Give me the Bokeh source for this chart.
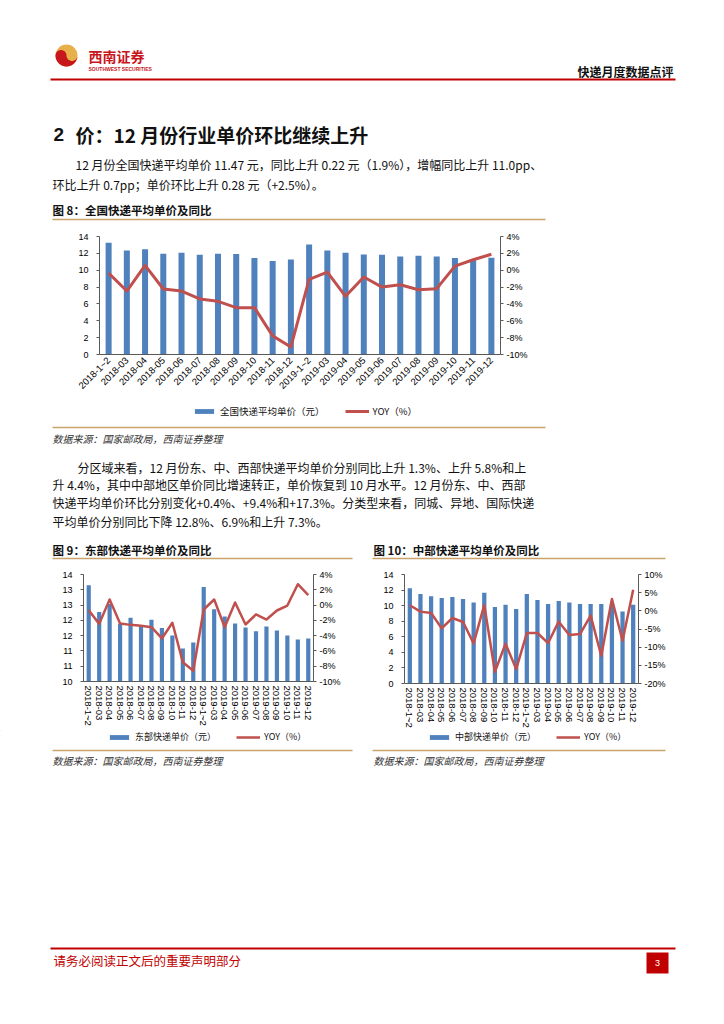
import math
import numpy as np
from bokeh.plotting import figure
from bokeh.layouts import column, row
from bokeh.models import (Range1d, FactorRange, LinearAxis, FixedTicker, PrintfTickFormatter,
                          NumeralTickFormatter, Legend, LegendItem, ColumnDataSource)
from bokeh.core.properties import value
from bokeh.embed import file_html
from bokeh.resources import INLINE

CJK = "Noto Sans CJK SC"
LAT = "Liberation Sans"
BLUE = "#4F81BD"
RED = "#C0504D"
GOLD = "#C9A36B"
DARKRED = "#C00000"
AXIS = "#595959"
PAGE_W = 724

# ---------------- data ----------------
months = ["2018-1~2", "2018-03", "2018-04", "2018-05", "2018-06", "2018-07", "2018-08",
          "2018-09", "2018-10", "2018-11", "2018-12",
          "2019-1~2", "2019-03", "2019-04", "2019-05", "2019-06", "2019-07", "2019-08",
          "2019-09", "2019-10", "2019-11", "2019-12"]

national_price = [13.25, 12.34, 12.50, 11.95, 12.07, 11.83, 11.95, 11.91, 11.44, 11.08, 11.26,
                  13.05, 12.34, 12.07, 11.87, 11.83, 11.63, 11.71, 11.63, 11.46, 11.19, 11.47]
national_yoy = [-0.34, -2.47, 0.57, -2.23, -2.47, -3.41, -3.69, -4.44, -4.44, -7.79, -9.10,
                -1.09, -0.22, -3.10, -0.81, -2.00, -1.72, -2.31, -2.19, 0.49, 1.24, 1.90]

east_price = [13.60, 12.60, 12.90, 12.16, 12.38, 12.06, 12.31, 12.00, 11.72, 11.23, 11.46,
              13.53, 12.70, 12.43, 12.17, 12.02, 11.88, 12.06, 11.91, 11.72, 11.57, 11.61]
east_yoy = [-0.67, -2.46, 0.73, -2.41, -2.59, -2.72, -2.89, -4.37, -2.32, -7.47, -8.60,
            -0.58, 0.73, -2.89, 0.34, -2.54, -1.23, -1.89, -0.71, -0.06, 2.73, 1.30]

central_price = [12.24, 11.51, 11.21, 10.99, 11.12, 10.86, 10.39, 11.64, 9.83, 10.13, 9.57,
                 11.51, 10.73, 10.22, 10.61, 10.39, 10.22, 10.22, 10.22, 10.15, 9.26, 10.13]
central_yoy = [1.53, -0.22, -0.59, -4.82, -1.97, -3.07, -8.96, 1.62, -16.78, -9.05, -16.04,
               -6.11, -6.11, -8.87, -2.98, -6.66, -6.38, -1.32, -12.36, 3.28, -8.22, 5.80]

# ---------------- texts ----------------
header_right = "快递月度数据点评"
logo_cn = "西南证券"
logo_en = "SOUTHWEST SECURITIES"
title_num = "2"
title_text = "价：12 月份行业单价环比继续上升"
para1 = ["12 月份全国快递平均单价 11.47 元，同比上升 0.22 元（1.9%），增幅同比上升 11.0pp、",
         "环比上升 0.7pp；单价环比上升 0.28 元（+2.5%）。"]
para2 = ["分区域来看，12 月份东、中、西部快递平均单价分别同比上升 1.3%、上升 5.8%和上",
         "升 4.4%，其中中部地区单价同比增速转正，单价恢复到 10 月水平。12 月份东、中、西部",
         "快递平均单价环比分别变化+0.4%、+9.4%和+17.3%。分类型来看，同城、异地、国际快递",
         "平均单价分别同比下降 12.8%、6.9%和上升 7.3%。"]
cap8 = "图 8：全国快递平均单价及同比"
cap9 = "图 9：东部快递平均单价及同比"
cap10 = "图 10：中部快递平均单价及同比"
source = "数据来源：国家邮政局，西南证券整理"
footer = "请务必阅读正文后的重要声明部分"
page_no = "3"
leg8 = "全国快递平均单价（元）"
leg9 = "东部快递单价（元）"
leg10 = "中部快递单价（元）"
leg_yoy = "YOY（%）"


def strip(y0, y1, x0=0, x1=PAGE_W):
    p = figure(width=x1 - x0, height=y1 - y0, x_range=Range1d(x0, x1), y_range=Range1d(y1, y0),
               x_axis_type=None, y_axis_type=None, toolbar_location=None, output_backend="svg",
               min_border=0, outline_line_color=None, frame_align=False)
    return p


def txt(p, x, y, s, size, color="#111111", font=CJK, style="normal", align="left"):
    p.text(x=[x], y=[y], text=[s], text_font=value(font), text_font_size=value(f"{size}px"),
           text_color=color, text_font_style=style, text_align=align, text_baseline="middle")


def hline(p, x0, x1, y, color, w):
    p.line(x=[x0, x1], y=[y, y], line_color=color, line_width=w)


def strip_legend(p, bar_label, loc, lsize, line_w):
    # legend swatches only: placeholder glyphs kept outside the visible range
    rb = p.vbar(x=[-100], top=[-100], bottom=[-110], width=1, fill_color=BLUE, line_color=None)
    rl = p.line(x=[-110, -100], y=[-100, -100], line_color=RED, line_width=line_w)
    leg = Legend(items=[LegendItem(label=value(bar_label), renderers=[rb]),
                        LegendItem(label=value(leg_yoy), renderers=[rl])],
                 location=loc, orientation="horizontal", border_line_color=None,
                 background_fill_alpha=0, padding=0, margin=0, spacing=20,
                 glyph_width=24, glyph_height=6, label_standoff=4,
                 label_text_font=CJK, label_text_font_size=f"{lsize}px",
                 label_height=12, label_text_baseline="middle", label_text_color="#111111")
    p.add_layout(leg)


# ---------------- strip 1: header, title, paragraph ----------------
s1 = strip(0, 228)
cx, cy, R = 66, 55, 11
s1.circle(x=[cx], y=[cy], radius=R, fill_color="#E8B04A", line_color=None)
t1 = np.linspace(0, np.pi, 40)
t2 = np.linspace(np.pi, 2 * np.pi, 30)
t3 = np.linspace(np.pi, 0, 30)
xs = np.concatenate([cx + R * np.cos(t1), cx - R / 2 + R / 2 * np.cos(t2), cx + R / 2 + R / 2 * np.cos(t3)])
ys = np.concatenate([cy + R * np.sin(t1), cy + R / 2 * np.sin(t2), cy + R / 2 * np.sin(t3)])
s1.patch(x=xs, y=ys, fill_color="#C8161D", line_color=None)
txt(s1, 88, 55, logo_cn, 14, color="#C8161D", style="bold")
txt(s1, 88, 68, logo_en, 5, color="#C8161D", font=LAT, style="bold")
txt(s1, 673, 71, header_right, 12, color="#111111", style="bold", align="right")
hline(s1, 50, 675, 79, DARKRED, 2)
txt(s1, 53, 134, title_num, 19, style="bold", font=LAT)
txt(s1, 75, 134, title_text, 19, style="bold")
txt(s1, 75, 164, para1[0], 12)
txt(s1, 52, 183.5, para1[1], 12)
txt(s1, 52, 209, cap8, 11.5, style="bold")
hline(s1, 52, 545, 219, GOLD, 1.5)


# ---------------- charts ----------------
def chart(width, height, bl, br, bt, bb, y_rng, y_ticks, y_fmt, yoy_rng, yoy_ticks,
          price, yoy, bar_w, line_w, orient, fsize, xsize):
    p = figure(width=width, height=height, x_range=FactorRange(*months), y_range=Range1d(*y_rng),
               toolbar_location=None, output_backend="svg",
               min_border_left=bl, min_border_right=br, min_border_top=bt, min_border_bottom=bb,
               outline_line_color=None, frame_align=False)
    p.xgrid.visible = False
    p.ygrid.visible = False
    src = ColumnDataSource(dict(month=months, price=price, yoy=yoy))
    p.vbar(x="month", top="price", bottom=y_rng[0], width=bar_w, source=src,
           fill_color=BLUE, line_color=None)
    p.extra_y_ranges = {"yoy": Range1d(*yoy_rng)}
    p.line(x="month", y="yoy", y_range_name="yoy", source=src, line_color=RED,
           line_width=line_w, line_join="round")
    ya = p.yaxis[0]
    ya.ticker = FixedTicker(ticks=y_ticks)
    ya.formatter = y_fmt
    ra = LinearAxis(y_range_name="yoy", ticker=FixedTicker(ticks=yoy_ticks),
                    formatter=PrintfTickFormatter(format="%d%%"))
    p.add_layout(ra, "right")
    for ax in (ya, ra):
        ax.major_tick_out = 3
        ax.major_tick_in = 0
        ax.minor_tick_out = 0
        ax.minor_tick_in = 0
        ax.axis_line_color = AXIS
        ax.major_tick_line_color = AXIS
        ax.major_label_text_font = LAT
        ax.major_label_text_font_size = f"{fsize}px"
        ax.major_label_text_color = "#000000"
    ya.major_label_standoff = 8
    ra.major_label_standoff = 3
    xa = p.xaxis[0]
    xa.axis_line_color = AXIS
    xa.major_tick_out = 0
    xa.major_tick_in = 0
    xa.major_label_orientation = orient
    xa.major_label_standoff = 4
    xa.major_label_text_font = LAT
    xa.major_label_text_font_size = f"{xsize}px"
    xa.major_label_text_color = "#000000"
    return p


c8 = chart(PAGE_W, 172, 99, 224, 8, 46, (0, 14), list(range(0, 15, 2)), NumeralTickFormatter(format="0"),
           (-10, 4), list(range(-10, 5, 2)), national_price, national_yoy, 0.33, 3, math.pi / 4,
           9, 9.5)

east_ticks = [10 + 4 * k / 7 for k in range(8)]
c9 = chart(362, 165, 83, 49, 9, 49, (10, 14), east_ticks, NumeralTickFormatter(format="0"),
           (-10, 4), list(range(-10, 5, 2)), east_price, east_yoy, 0.4, 2.5, "vertical",
           9, 9.5)

c10 = chart(362, 165, 42, 86, 9, 47, (0, 14), list(range(0, 15, 2)), NumeralTickFormatter(format="0"),
            (-20, 10), list(range(-20, 11, 5)), central_price, central_yoy, 0.4, 2.5, "vertical",
            9, 9.5)

# ---------------- strip 3 ----------------
s3 = strip(400, 565)
strip_legend(s3, leg8, (192, 565 - 418), 9.5, 3)
hline(s3, 52, 545, 427, GOLD, 1.5)
txt(s3, 52, 438, source, 10, color="#333333", style="italic")
txt(s3, 77, 467, para2[0], 12)
txt(s3, 52, 484, para2[1], 12)
txt(s3, 52, 502, para2[2], 12)
txt(s3, 52, 521, para2[3], 12)
txt(s3, 52, 549, cap9, 11.5, style="bold")
txt(s3, 373, 549, cap10, 11.5, style="bold")
hline(s3, 52, 352, 558, GOLD, 1.5)
hline(s3, 372, 665, 558, GOLD, 1.5)

# ---------------- strip 5 ----------------
s5 = strip(730, 1020)
strip_legend(s5, leg9, (107, 1020 - 743), 9, 2.5)
strip_legend(s5, leg10, (427, 1020 - 743), 9, 2.5)
hline(s5, 52, 352, 750, GOLD, 1.5)
hline(s5, 372, 665, 750, GOLD, 1.5)
txt(s5, 52, 760, source, 10, color="#333333", style="italic")
txt(s5, 373, 760, source, 10, color="#333333", style="italic")
hline(s5, 50, 675, 948, DARKRED, 2)
txt(s5, 53, 960, footer, 12.5, color=DARKRED)
s5.quad(left=[646], right=[668], top=[952], bottom=[973], fill_color=DARKRED, line_color=None)
txt(s5, 657, 962.5, page_no, 9, color="#FFFFFF", font=LAT, align="center")

layout = column(s1, c8, s3, row(c9, c10, spacing=0), s5, spacing=0)
open("out.html", "w").write(file_html(layout, INLINE))
